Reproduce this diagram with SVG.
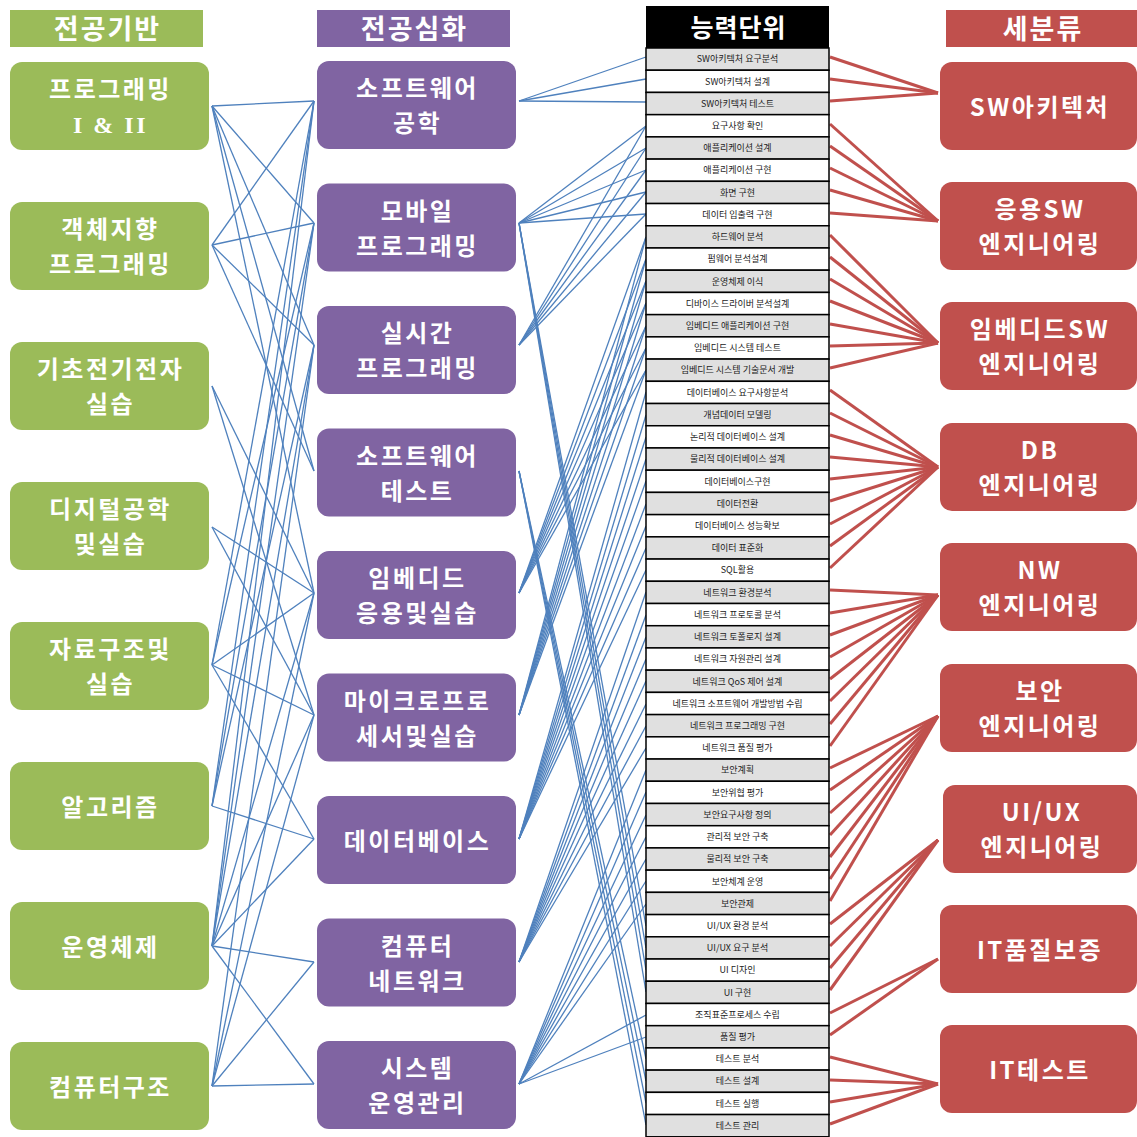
<svg xmlns="http://www.w3.org/2000/svg" width="1137" height="1137" viewBox="0 0 1137 1137">
<style>
.gn{fill:#9bbb59}.pn{fill:#8064a2}.rn{fill:#c0504d}
.nt{font-family:"Noto Sans CJK KR","Noto Sans",sans-serif;font-weight:bold;font-size:24px;fill:#fff;text-anchor:middle;letter-spacing:2.5px}
.ht{font-family:"Noto Sans CJK KR","Noto Sans",sans-serif;font-weight:bold;font-size:27px;fill:#fff;text-anchor:middle;letter-spacing:2px}
.bl line{stroke:#4f81bd;stroke-width:1.3}
.rl line{stroke:#c0504d;stroke-width:3}
.rg{fill:#e0e0e0;stroke:#000;stroke-width:1.5}.rw{fill:#fff;stroke:#000;stroke-width:1.5}
.rt{font-family:"Noto Sans CJK KR","Noto Sans",sans-serif;font-size:9px;fill:#222;text-anchor:middle}
</style>
<rect width="1137" height="1137" fill="#fff"/>
<g id="connectors">
<g class="bl">
<line x1="212" y1="106" x2="314" y2="101"/><line x1="212" y1="106" x2="314" y2="223"/><line x1="212" y1="106" x2="314" y2="345"/><line x1="212" y1="106" x2="314" y2="471"/><line x1="212" y1="106" x2="314" y2="593"/>
<line x1="212" y1="245" x2="314" y2="101"/><line x1="212" y1="245" x2="314" y2="223"/><line x1="212" y1="245" x2="314" y2="345"/><line x1="212" y1="245" x2="314" y2="471"/>
<line x1="212" y1="386" x2="314" y2="593"/><line x1="212" y1="386" x2="314" y2="715"/>
<line x1="212" y1="527" x2="314" y2="593"/><line x1="212" y1="527" x2="314" y2="715"/>
<line x1="212" y1="665" x2="314" y2="101"/><line x1="212" y1="665" x2="314" y2="223"/><line x1="212" y1="665" x2="314" y2="593"/><line x1="212" y1="665" x2="314" y2="715"/><line x1="212" y1="665" x2="314" y2="839"/>
<line x1="212" y1="806" x2="314" y2="101"/><line x1="212" y1="806" x2="314" y2="223"/><line x1="212" y1="806" x2="314" y2="345"/><line x1="212" y1="806" x2="314" y2="839"/>
<line x1="212" y1="946" x2="314" y2="101"/><line x1="212" y1="946" x2="314" y2="223"/><line x1="212" y1="946" x2="314" y2="345"/><line x1="212" y1="946" x2="314" y2="593"/><line x1="212" y1="946" x2="314" y2="715"/><line x1="212" y1="946" x2="314" y2="839"/><line x1="212" y1="946" x2="314" y2="962"/><line x1="212" y1="946" x2="314" y2="1084"/>
<line x1="212" y1="1086" x2="314" y2="345"/><line x1="212" y1="1086" x2="314" y2="593"/><line x1="212" y1="1086" x2="314" y2="715"/><line x1="212" y1="1086" x2="314" y2="962"/><line x1="212" y1="1086" x2="314" y2="1084"/>
<line x1="519" y1="101" x2="646" y2="57"/><line x1="519" y1="101" x2="646" y2="79"/><line x1="519" y1="101" x2="646" y2="102"/>
<line x1="519" y1="223" x2="646" y2="126"/><line x1="519" y1="223" x2="646" y2="148"/><line x1="519" y1="223" x2="646" y2="170"/><line x1="519" y1="223" x2="646" y2="192"/><line x1="519" y1="223" x2="646" y2="214"/>
<line x1="519" y1="223" x2="646" y2="926"/><line x1="519" y1="223" x2="646" y2="948"/><line x1="519" y1="223" x2="646" y2="970"/><line x1="519" y1="223" x2="646" y2="992"/>
<line x1="519" y1="345" x2="646" y2="126"/><line x1="519" y1="345" x2="646" y2="148"/><line x1="519" y1="345" x2="646" y2="170"/><line x1="519" y1="345" x2="646" y2="192"/><line x1="519" y1="345" x2="646" y2="214"/>
<line x1="519" y1="471" x2="646" y2="1059"/><line x1="519" y1="471" x2="646" y2="1081"/><line x1="519" y1="471" x2="646" y2="1103"/><line x1="519" y1="471" x2="646" y2="1125"/>
<line x1="519" y1="593" x2="646" y2="237"/><line x1="519" y1="593" x2="646" y2="259"/><line x1="519" y1="593" x2="646" y2="281"/><line x1="519" y1="593" x2="646" y2="303"/><line x1="519" y1="593" x2="646" y2="326"/><line x1="519" y1="593" x2="646" y2="348"/><line x1="519" y1="593" x2="646" y2="370"/>
<line x1="519" y1="715" x2="646" y2="237"/><line x1="519" y1="715" x2="646" y2="259"/><line x1="519" y1="715" x2="646" y2="281"/><line x1="519" y1="715" x2="646" y2="303"/><line x1="519" y1="715" x2="646" y2="326"/><line x1="519" y1="715" x2="646" y2="348"/><line x1="519" y1="715" x2="646" y2="370"/>
<line x1="519" y1="839" x2="646" y2="392"/><line x1="519" y1="839" x2="646" y2="415"/><line x1="519" y1="839" x2="646" y2="437"/><line x1="519" y1="839" x2="646" y2="459"/><line x1="519" y1="839" x2="646" y2="481"/><line x1="519" y1="839" x2="646" y2="504"/><line x1="519" y1="839" x2="646" y2="526"/><line x1="519" y1="839" x2="646" y2="548"/><line x1="519" y1="839" x2="646" y2="570"/>
<line x1="519" y1="962" x2="646" y2="592"/><line x1="519" y1="962" x2="646" y2="615"/><line x1="519" y1="962" x2="646" y2="637"/><line x1="519" y1="962" x2="646" y2="659"/><line x1="519" y1="962" x2="646" y2="681"/><line x1="519" y1="962" x2="646" y2="704"/><line x1="519" y1="962" x2="646" y2="726"/><line x1="519" y1="962" x2="646" y2="748"/>
<line x1="519" y1="1084" x2="646" y2="770"/><line x1="519" y1="1084" x2="646" y2="792"/><line x1="519" y1="1084" x2="646" y2="815"/><line x1="519" y1="1084" x2="646" y2="837"/><line x1="519" y1="1084" x2="646" y2="859"/><line x1="519" y1="1084" x2="646" y2="881"/><line x1="519" y1="1084" x2="646" y2="904"/><line x1="519" y1="1084" x2="646" y2="1015"/><line x1="519" y1="1084" x2="646" y2="1037"/>
</g>
<g class="rl">
<line x1="830" y1="57" x2="938" y2="93"/><line x1="830" y1="79" x2="938" y2="93"/><line x1="830" y1="101" x2="938" y2="93"/>
<line x1="830" y1="124" x2="938" y2="221"/><line x1="830" y1="146" x2="938" y2="221"/><line x1="830" y1="168" x2="938" y2="221"/><line x1="830" y1="190" x2="938" y2="221"/><line x1="830" y1="213" x2="938" y2="221"/>
<line x1="830" y1="235" x2="938" y2="343"/><line x1="830" y1="257" x2="938" y2="343"/><line x1="830" y1="279" x2="938" y2="343"/><line x1="830" y1="301" x2="938" y2="343"/><line x1="830" y1="324" x2="938" y2="343"/><line x1="830" y1="346" x2="938" y2="343"/><line x1="830" y1="368" x2="938" y2="343"/>
<line x1="830" y1="390" x2="938" y2="467"/><line x1="830" y1="413" x2="938" y2="467"/><line x1="830" y1="435" x2="938" y2="467"/><line x1="830" y1="457" x2="938" y2="467"/><line x1="830" y1="479" x2="938" y2="467"/><line x1="830" y1="501" x2="938" y2="467"/><line x1="830" y1="524" x2="938" y2="467"/><line x1="830" y1="546" x2="938" y2="467"/><line x1="830" y1="568" x2="938" y2="467"/>
<line x1="830" y1="590" x2="938" y2="595"/><line x1="830" y1="613" x2="938" y2="595"/><line x1="830" y1="635" x2="938" y2="595"/><line x1="830" y1="657" x2="938" y2="595"/><line x1="830" y1="679" x2="938" y2="595"/><line x1="830" y1="701" x2="938" y2="595"/><line x1="830" y1="724" x2="938" y2="595"/><line x1="830" y1="746" x2="938" y2="595"/>
<line x1="830" y1="768" x2="938" y2="716"/><line x1="830" y1="790" x2="938" y2="716"/><line x1="830" y1="813" x2="938" y2="716"/><line x1="830" y1="835" x2="938" y2="716"/><line x1="830" y1="857" x2="938" y2="716"/><line x1="830" y1="879" x2="938" y2="716"/><line x1="830" y1="901" x2="938" y2="716"/>
<line x1="830" y1="924" x2="938" y2="840"/><line x1="830" y1="946" x2="938" y2="840"/><line x1="830" y1="968" x2="938" y2="840"/><line x1="830" y1="990" x2="938" y2="840"/>
<line x1="830" y1="1013" x2="938" y2="959"/><line x1="830" y1="1035" x2="938" y2="959"/>
<line x1="830" y1="1057" x2="938" y2="1084"/><line x1="830" y1="1080" x2="938" y2="1084"/><line x1="830" y1="1102" x2="938" y2="1084"/><line x1="830" y1="1124" x2="938" y2="1084"/>
</g>
</g>
<g id="headers">
<rect x="10" y="10" width="193" height="37" class="gn"/><text x="107.5" y="39" class="ht">전공기반</text>
<rect x="317" y="10" width="193" height="37" class="pn"/><text x="414.5" y="39" class="ht">전공심화</text>
<rect x="946" y="10" width="191" height="37" class="rn"/><text x="1043" y="39" class="ht">세분류</text>
</g>
<g id="base">
<g id="g1"><rect x="10" y="62" width="199" height="88" rx="12" class="gn"/><text x="110.5" y="98" class="nt">프로그래밍<tspan x="110.5" dy="35" style="font-family:'Liberation Serif',serif">I &amp; II</tspan></text></g>
<g id="g2"><rect x="10" y="202" width="199" height="88" rx="12" class="gn"/><text x="110.5" y="238" class="nt">객체지향<tspan x="110.5" dy="35">프로그래밍</tspan></text></g>
<g id="g3"><rect x="10" y="342" width="199" height="88" rx="12" class="gn"/><text x="110.5" y="378" class="nt">기초전기전자<tspan x="110.5" dy="35">실습</tspan></text></g>
<g id="g4"><rect x="10" y="482" width="199" height="88" rx="12" class="gn"/><text x="110.5" y="518" class="nt">디지털공학<tspan x="110.5" dy="35">및실습</tspan></text></g>
<g id="g5"><rect x="10" y="622" width="199" height="88" rx="12" class="gn"/><text x="110.5" y="658" class="nt">자료구조및<tspan x="110.5" dy="35">실습</tspan></text></g>
<g id="g6"><rect x="10" y="762" width="199" height="88" rx="12" class="gn"/><text x="110.5" y="816" class="nt">알고리즘</text></g>
<g id="g7"><rect x="10" y="902" width="199" height="88" rx="12" class="gn"/><text x="110.5" y="956" class="nt">운영체제</text></g>
<g id="g8"><rect x="10" y="1042" width="199" height="88" rx="12" class="gn"/><text x="110.5" y="1096" class="nt">컴퓨터구조</text></g>
</g>
<g id="advanced">
<g id="p1"><rect x="317" y="61" width="199" height="88" rx="12" class="pn"/><text x="417.5" y="97" class="nt">소프트웨어<tspan x="417.5" dy="35">공학</tspan></text></g>
<g id="p2"><rect x="317" y="183.5" width="199" height="88" rx="12" class="pn"/><text x="417.5" y="219.5" class="nt">모바일<tspan x="417.5" dy="35">프로그래밍</tspan></text></g>
<g id="p3"><rect x="317" y="306" width="199" height="88" rx="12" class="pn"/><text x="417.5" y="342" class="nt">실시간<tspan x="417.5" dy="35">프로그래밍</tspan></text></g>
<g id="p4"><rect x="317" y="428.5" width="199" height="88" rx="12" class="pn"/><text x="417.5" y="464.5" class="nt">소프트웨어<tspan x="417.5" dy="35">테스트</tspan></text></g>
<g id="p5"><rect x="317" y="551" width="199" height="88" rx="12" class="pn"/><text x="417.5" y="587" class="nt">임베디드<tspan x="417.5" dy="35">응용및실습</tspan></text></g>
<g id="p6"><rect x="317" y="673.5" width="199" height="88" rx="12" class="pn"/><text x="417.5" y="709.5" class="nt">마이크로프로<tspan x="417.5" dy="35">세서및실습</tspan></text></g>
<g id="p7"><rect x="317" y="796" width="199" height="88" rx="12" class="pn"/><text x="417.5" y="850" class="nt">데이터베이스</text></g>
<g id="p8"><rect x="317" y="918.5" width="199" height="88" rx="12" class="pn"/><text x="417.5" y="954.5" class="nt">컴퓨터<tspan x="417.5" dy="35">네트워크</tspan></text></g>
<g id="p9"><rect x="317" y="1041" width="199" height="88" rx="12" class="pn"/><text x="417.5" y="1077" class="nt">시스템<tspan x="417.5" dy="35">운영관리</tspan></text></g>
</g>
<g id="units">
<rect x="646" y="6" width="183" height="42" fill="#000"/><text x="738.5" y="37" class="ht" style="font-size:25px;letter-spacing:1px">능력단위</text>
<rect x="646" y="48.00" width="183" height="22.22" class="rg"/><text x="737.5" y="62.3" class="rt">SW아키텍처 요구분석</text>
<rect x="646" y="70.22" width="183" height="22.22" class="rw"/><text x="737.5" y="84.5" class="rt">SW아키텍처 설계</text>
<rect x="646" y="92.44" width="183" height="22.22" class="rg"/><text x="737.5" y="106.8" class="rt">SW아키텍처 테스트</text>
<rect x="646" y="114.66" width="183" height="22.22" class="rw"/><text x="737.5" y="129.0" class="rt">요구사항 확인</text>
<rect x="646" y="136.88" width="183" height="22.22" class="rg"/><text x="737.5" y="151.2" class="rt">애플리케이션 설계</text>
<rect x="646" y="159.10" width="183" height="22.22" class="rw"/><text x="737.5" y="173.4" class="rt">애플리케이션 구현</text>
<rect x="646" y="181.32" width="183" height="22.22" class="rg"/><text x="737.5" y="195.6" class="rt">화면 구현</text>
<rect x="646" y="203.54" width="183" height="22.22" class="rw"/><text x="737.5" y="217.9" class="rt">데이터 입출력 구현</text>
<rect x="646" y="225.76" width="183" height="22.22" class="rg"/><text x="737.5" y="240.1" class="rt">하드웨어 분석</text>
<rect x="646" y="247.98" width="183" height="22.22" class="rw"/><text x="737.5" y="262.3" class="rt">펌웨어 분석설계</text>
<rect x="646" y="270.20" width="183" height="22.22" class="rg"/><text x="737.5" y="284.5" class="rt">운영체제 이식</text>
<rect x="646" y="292.42" width="183" height="22.22" class="rw"/><text x="737.5" y="306.7" class="rt">디바이스 드라이버 분석설계</text>
<rect x="646" y="314.64" width="183" height="22.22" class="rg"/><text x="737.5" y="329.0" class="rt">임베디드 애플리케이션 구현</text>
<rect x="646" y="336.86" width="183" height="22.22" class="rw"/><text x="737.5" y="351.2" class="rt">임베디드 시스템 테스트</text>
<rect x="646" y="359.08" width="183" height="22.22" class="rg"/><text x="737.5" y="373.4" class="rt">임베디드 시스템 기술문서 개발</text>
<rect x="646" y="381.30" width="183" height="22.22" class="rw"/><text x="737.5" y="395.6" class="rt">데이터베이스 요구사항분석</text>
<rect x="646" y="403.52" width="183" height="22.22" class="rg"/><text x="737.5" y="417.8" class="rt">개념데이터 모델링</text>
<rect x="646" y="425.74" width="183" height="22.22" class="rw"/><text x="737.5" y="440.1" class="rt">논리적 데이터베이스 설계</text>
<rect x="646" y="447.96" width="183" height="22.22" class="rg"/><text x="737.5" y="462.3" class="rt">물리적 데이터베이스 설계</text>
<rect x="646" y="470.18" width="183" height="22.22" class="rw"/><text x="737.5" y="484.5" class="rt">데이터베이스구현</text>
<rect x="646" y="492.40" width="183" height="22.22" class="rg"/><text x="737.5" y="506.7" class="rt">데이터전환</text>
<rect x="646" y="514.62" width="183" height="22.22" class="rw"/><text x="737.5" y="528.9" class="rt">데이터베이스 성능확보</text>
<rect x="646" y="536.84" width="183" height="22.22" class="rg"/><text x="737.5" y="551.2" class="rt">데이터 표준화</text>
<rect x="646" y="559.06" width="183" height="22.22" class="rw"/><text x="737.5" y="573.4" class="rt">SQL활용</text>
<rect x="646" y="581.28" width="183" height="22.22" class="rg"/><text x="737.5" y="595.6" class="rt">네트워크 환경분석</text>
<rect x="646" y="603.50" width="183" height="22.22" class="rw"/><text x="737.5" y="617.8" class="rt">네트워크 프로토콜 분석</text>
<rect x="646" y="625.72" width="183" height="22.22" class="rg"/><text x="737.5" y="640.0" class="rt">네트워크 토폴로지 설계</text>
<rect x="646" y="647.94" width="183" height="22.22" class="rw"/><text x="737.5" y="662.3" class="rt">네트워크 자원관리 설계</text>
<rect x="646" y="670.16" width="183" height="22.22" class="rg"/><text x="737.5" y="684.5" class="rt">네트워크 QoS 제어 설계</text>
<rect x="646" y="692.38" width="183" height="22.22" class="rw"/><text x="737.5" y="706.7" class="rt">네트워크 소프트웨어 개발방법 수립</text>
<rect x="646" y="714.60" width="183" height="22.22" class="rg"/><text x="737.5" y="728.9" class="rt">네트워크 프로그래밍 구현</text>
<rect x="646" y="736.82" width="183" height="22.22" class="rw"/><text x="737.5" y="751.1" class="rt">네트워크 품질 평가</text>
<rect x="646" y="759.04" width="183" height="22.22" class="rg"/><text x="737.5" y="773.4" class="rt">보안계획</text>
<rect x="646" y="781.26" width="183" height="22.22" class="rw"/><text x="737.5" y="795.6" class="rt">보안위협 평가</text>
<rect x="646" y="803.48" width="183" height="22.22" class="rg"/><text x="737.5" y="817.8" class="rt">보안요구사항 정의</text>
<rect x="646" y="825.70" width="183" height="22.22" class="rw"/><text x="737.5" y="840.0" class="rt">관리적 보안 구축</text>
<rect x="646" y="847.92" width="183" height="22.22" class="rg"/><text x="737.5" y="862.2" class="rt">물리적 보안 구축</text>
<rect x="646" y="870.14" width="183" height="22.22" class="rw"/><text x="737.5" y="884.5" class="rt">보안체계 운영</text>
<rect x="646" y="892.36" width="183" height="22.22" class="rg"/><text x="737.5" y="906.7" class="rt">보안관제</text>
<rect x="646" y="914.58" width="183" height="22.22" class="rw"/><text x="737.5" y="928.9" class="rt">UI/UX 환경 분석</text>
<rect x="646" y="936.80" width="183" height="22.22" class="rg"/><text x="737.5" y="951.1" class="rt">UI/UX 요구 분석</text>
<rect x="646" y="959.02" width="183" height="22.22" class="rw"/><text x="737.5" y="973.3" class="rt">UI 디자인</text>
<rect x="646" y="981.24" width="183" height="22.22" class="rg"/><text x="737.5" y="995.6" class="rt">UI 구현</text>
<rect x="646" y="1003.46" width="183" height="22.22" class="rw"/><text x="737.5" y="1017.8" class="rt">조직표준프로세스 수립</text>
<rect x="646" y="1025.68" width="183" height="22.22" class="rg"/><text x="737.5" y="1040.0" class="rt">품질 평가</text>
<rect x="646" y="1047.90" width="183" height="22.22" class="rw"/><text x="737.5" y="1062.2" class="rt">테스트 분석</text>
<rect x="646" y="1070.12" width="183" height="22.22" class="rg"/><text x="737.5" y="1084.4" class="rt">테스트 설계</text>
<rect x="646" y="1092.34" width="183" height="22.22" class="rw"/><text x="737.5" y="1106.7" class="rt">테스트 실행</text>
<rect x="646" y="1114.56" width="183" height="22.22" class="rg"/><text x="737.5" y="1128.9" class="rt">테스트 관리</text>
</g>
<g id="categories">
<g id="r1"><rect x="940" y="62" width="197" height="88" rx="12" class="rn"/><text x="1040" y="116" class="nt">SW아키텍처</text></g>
<g id="r2"><rect x="940" y="182" width="197" height="88" rx="12" class="rn"/><text x="1040" y="218" class="nt">응용SW<tspan x="1040" dy="35">엔지니어링</tspan></text></g>
<g id="r3"><rect x="940" y="302" width="197" height="88" rx="12" class="rn"/><text x="1040" y="338" class="nt">임베디드SW<tspan x="1040" dy="35">엔지니어링</tspan></text></g>
<g id="r4"><rect x="940" y="423" width="197" height="88" rx="12" class="rn"/><text x="1040" y="459" class="nt">DB<tspan x="1040" dy="35">엔지니어링</tspan></text></g>
<g id="r5"><rect x="940" y="543" width="197" height="88" rx="12" class="rn"/><text x="1040" y="579" class="nt">NW<tspan x="1040" dy="35">엔지니어링</tspan></text></g>
<g id="r6"><rect x="940" y="664" width="197" height="88" rx="12" class="rn"/><text x="1040" y="700" class="nt">보안<tspan x="1040" dy="35">엔지니어링</tspan></text></g>
<g id="r7"><rect x="943" y="785" width="194" height="88" rx="12" class="rn"/><text x="1042" y="821" class="nt">UI/UX<tspan x="1042" dy="35">엔지니어링</tspan></text></g>
<g id="r8"><rect x="940" y="905" width="197" height="88" rx="12" class="rn"/><text x="1040" y="959" class="nt">IT품질보증</text></g>
<g id="r9"><rect x="940" y="1025" width="197" height="88" rx="12" class="rn"/><text x="1040" y="1079" class="nt">IT테스트</text></g>
</g>
</svg>
